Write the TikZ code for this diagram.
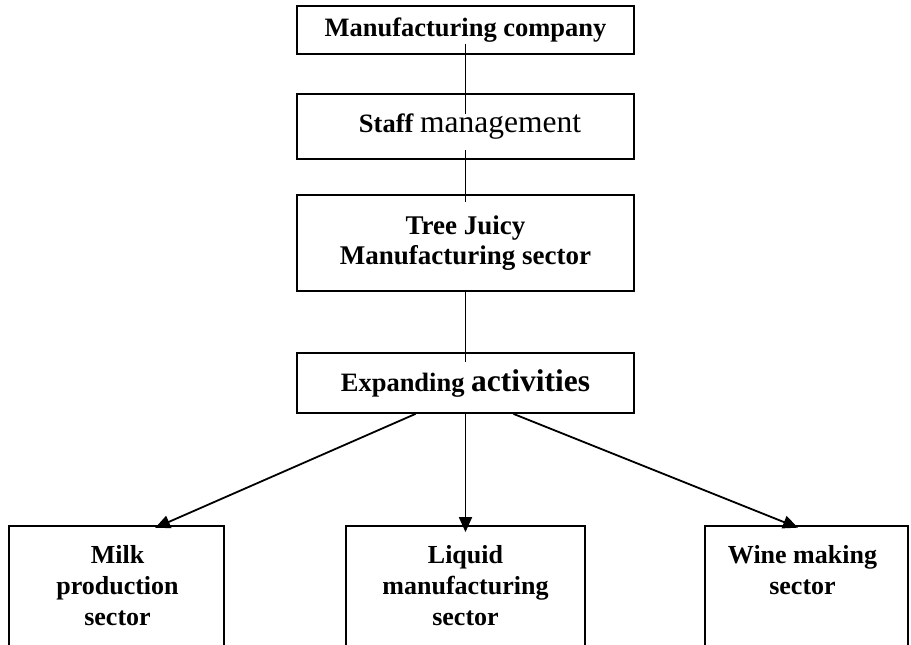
\documentclass[tikz,border=0pt]{standalone}
\usepackage{fontspec}
\setmainfont{Liberation Serif}
\usepackage{tikz}
\usetikzlibrary{positioning, arrows.meta, calc}

\tikzset{
  box/.style={draw, line width=1.8pt, minimum width=337pt, align=center,
    font=\fontsize{26.5}{30}\selectfont\bfseries},
  sectorbox/.style={draw, line width=1.8pt, minimum height=200pt},
  sectortext/.style={anchor=north, inner sep=0pt, yshift=-20pt, align=center,
    font=\fontsize{26}{31}\selectfont\bfseries},
  link/.style={line width=1.8pt},
  branch/.style={line width=1.8pt, shorten >=-7pt, -{Triangle[length=15pt,width=13pt]}}
}

\begin{document}
\begin{tikzpicture}[x=1pt,y=-1pt,on grid]
        \clip (0,0) rectangle (911,645);

        \node[box, minimum height=48pt] (company) at (465.5,30) {Manufacturing company};
        \node[box, minimum height=65pt] (staff) [below=96.5pt of company]
            {\hspace*{9pt}Staff {\fontsize{31.5}{34}\selectfont\mdseries management}};
        \node[box, minimum height=96pt, font=\fontsize{27}{30}\selectfont\bfseries] (juicy)
            [below=116.5pt of staff] {Tree Juicy\\Manufacturing sector};
        \node[box, minimum height=60pt] (expand) [below=140pt of juicy]
            {Expanding {\fontsize{31.5}{34}\selectfont activities}};

        \node[sectorbox, minimum width=239pt] (liquid) [below=243pt of expand]
            [label={[sectortext]north:{Liquid\\manufacturing\\sector}}] {};
        \node[sectorbox, minimum width=215pt] (milk) [left=349pt of liquid]
            [label={[sectortext, xshift=1pt]north:{Milk\\production\\sector}}] {};
        \node[sectorbox, minimum width=203pt] (wine) [right=341pt of liquid]
            [label={[sectortext, xshift=-4pt]north:{Wine making\\sector}}] {};

        \draw[link, shorten <=-11pt, shorten >=-21pt] (company) -- (staff);
        \draw[link, shorten <=-10pt, shorten >=-8pt] (staff) -- (juicy);
        \draw[link, shorten >=-10pt] (juicy) -- (expand);

        \draw[branch] ($(expand.south)+(-50,0)$) -- ($(milk.north)+(45,0)$);
        \draw[branch] (expand.south) -- (liquid.north);
        \draw[branch] ($(expand.south)+(48,0)$) -- ($(wine.north)+(-15,0)$);

\end{tikzpicture}
\end{document}
